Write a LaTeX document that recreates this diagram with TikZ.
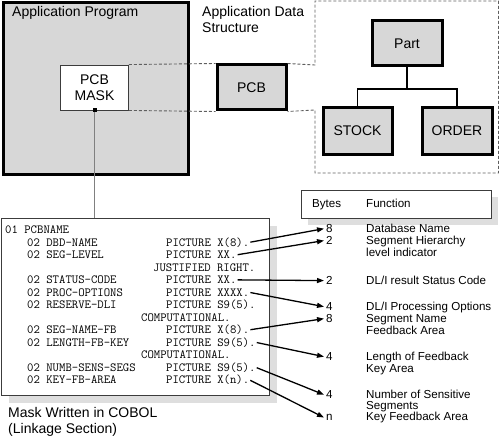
\documentclass[tikz,border=0pt]{standalone}
\usepackage{fontspec}
\setmainfont{Liberation Sans}
\newfontfamily\monof{Latin Modern Mono}
\usetikzlibrary{arrows.meta}
\definecolor{boxgray}{RGB}{215,215,215}
\definecolor{shadowgray}{RGB}{222,222,222}
\definecolor{dashgray}{RGB}{95,95,95}
\definecolor{framegray}{RGB}{60,60,60}
\begin{document}
\begin{tikzpicture}[x=1pt,y=-1pt,
  big/.style={font=\fontsize{14}{16}\selectfont},
  lbl/.style={font=\fontsize{11.6}{12}\selectfont, anchor=mid west, inner sep=0pt},
  code/.style={font=\monof\fontsize{12.4}{12}\selectfont, anchor=mid west, inner sep=0pt},
  thickbox/.style={draw=black, line width=3pt, fill=boxgray, big, inner sep=0pt},
  thinbox/.style={draw=framegray, line width=0.9pt, fill=white, inner sep=0pt},
  dashline/.style={draw=dashgray, line width=0.9pt, dash pattern=on 3pt off 2pt},
  tree/.style={draw=black, line width=1.5pt},
  arr/.style={-{Triangle[length=7pt,width=5pt]}, line width=1.3pt, shorten <=1pt}
]
\useasboundingbox (0,0) rectangle (500,441);

% Application program container
\node[thickbox, minimum width=185.5, minimum height=171, anchor=north west] (app) at (1.5,1.5) {};
\node[big, anchor=mid west, inner sep=0pt] (apptitle) at (12,14) {Application Program};

% PCB mask
\node[thinbox, big, align=center, minimum width=68, minimum height=45] (mask) at (94.5,87.5) {PCB\\MASK};

% PCB
\node[thickbox, minimum width=69, minimum height=45] (pcb) at (251.5,87.5) {PCB};

% Data structure dashed outline
\coordinate (d1) at (315,65);
\coordinate (d2) at (315,1);
\coordinate (d3) at (498.5,1);
\coordinate (d4) at (498.5,173);
\coordinate (d5) at (315,173);
\coordinate (d6) at (315,110);
\draw[dashline] (mask.north east) -- (pcb.north west);
\draw[dashline] (mask.south east) -- (pcb.south west);
\draw[dashline] (pcb.north east) -- (d1) -- (d2) -- (d3) -- (d4) -- (d5) -- (d6) -- (pcb.south east);
\node[big, anchor=mid west, inner sep=0pt] (adstitle1) at (202,14) {Application Data};
\node[big, anchor=mid west, inner sep=0pt] (adstitle2) at (202,30) {Structure};

% Tree
\node[thickbox, minimum width=70, minimum height=45] (part) at (407,43.5) {Part};
\node[thickbox, minimum width=69, minimum height=46] (stock) at (357.5,131) {STOCK};
\node[thickbox, minimum width=70, minimum height=46] (order) at (457,131) {ORDER};
\coordinate (tj) at (407,89);
\draw[tree] (part.south) -- (tj);
\draw[tree] (stock.north) |- (tj) -| (order.north);

% Bytes / Function header
\fill[shadowgray] (308,197) rectangle (498,225);
\node[thinbox, minimum width=190, minimum height=28] (hdr) at (396,204) {};
\node[lbl] (hb) at (312,205) {Bytes};
\node[lbl] (hf) at (366,205) {Function};

% COBOL box
\fill[shadowgray] (9,226) rectangle (277,403);
\node[thinbox, minimum width=268, minimum height=177] (cobol) at (135,306.5) {};
\draw[draw=gray, line width=1pt] (mask.south) -- (cobol.north -| mask.south);
\fill[black] ([xshift=-2pt,yshift=-2pt]mask.south) rectangle ([xshift=2pt,yshift=2pt]mask.south);

\node[code] (c1) at (5,231) {01 PCBNAME};
\node[code] (c2) at (27,243.5) {02 DBD-NAME};
\node[code] (p2) at (166,243.5) {PICTURE X(8).};
\node[code] (c3) at (27,256) {02 SEG-LEVEL};
\node[code] (p3) at (166,256) {PICTURE XX.};
\node[code] (p4) at (153,268.5) {JUSTIFIED RIGHT.};
\node[code] (c5) at (27,281) {02 STATUS-CODE};
\node[code] (p5) at (166,281) {PICTURE XX.};
\node[code] (c6) at (27,293.5) {02 PROC-OPTIONS};
\node[code] (p6) at (166,293.5) {PICTURE XXXX.};
\node[code] (c7) at (27,306) {02 RESERVE-DLI};
\node[code] (p7) at (166,306) {PICTURE S9(5).};
\node[code] (p8) at (141,318.5) {COMPUTATIONAL.};
\node[code] (c9) at (27,331) {02 SEG-NAME-FB};
\node[code] (p9) at (166,331) {PICTURE X(8).};
\node[code] (c10) at (27,343.5) {02 LENGTH-FB-KEY};
\node[code] (p10) at (166,343.5) {PICTURE S9(5).};
\node[code] (p11) at (141,356) {COMPUTATIONAL.};
\node[code] (c12) at (27,368.5) {02 NUMB-SENS-SEGS};
\node[code] (p12) at (166,368.5) {PICTURE S9(5).};
\node[code] (c13) at (27,381) {02 KEY-FB-AREA};
\node[code] (p13) at (166,381) {PICTURE X(n).};

\node[big, anchor=mid west, inner sep=0pt] (caption1) at (8,415) {Mask Written in COBOL};
\node[big, anchor=mid west, inner sep=0pt] (caption2) at (8,431) {(Linkage Section)};

% Bytes column
\node[lbl] (b1) at (326,230) {8};
\node[lbl] (b2) at (326,242) {2};
\node[lbl] (b3) at (326,282) {2};
\node[lbl] (b4) at (326,308) {4};
\node[lbl] (b5) at (326,320) {8};
\node[lbl] (b6) at (326,358) {4};
\node[lbl] (b7) at (326,396) {4};
\node[lbl] (b8) at (326,418) {n};

% Function column
\node[lbl] (f1) at (366,230) {Database Name};
\node[lbl] (f2a) at (366,242) {Segment Hierarchy};
\node[lbl] (f2b) at (366,254) {level indicator};
\node[lbl] (f3) at (366,282) {DL/I result Status Code};
\node[lbl] (f4) at (366,308) {DL/I Processing Options};
\node[lbl] (f5a) at (366,320) {Segment Name};
\node[lbl] (f5b) at (366,332) {Feedback Area};
\node[lbl] (f6a) at (366,358) {Length of Feedback};
\node[lbl] (f6b) at (366,370) {Key Area};
\node[lbl] (f7a) at (366,396) {Number of Sensitive};
\node[lbl] (f7b) at (366,407) {Segments};
\node[lbl] (f8) at (366,418) {Key Feedback Area};

% Arrows
\draw[arr] (p2.east) -- ([xshift=-2pt]b1.west);
\draw[arr] (p3.east) -- ([xshift=-2pt]b2.west);
\draw[arr] (p5.east) -- ([xshift=-2pt]b3.west);
\draw[arr] (p6.east) -- ([xshift=-2pt]b4.west);
\draw[arr] (p9.east) -- ([xshift=-2pt]b5.west);
\draw[arr] (p10.east) -- ([xshift=-2pt]b6.west);
\draw[arr] (p12.east) -- ([xshift=-2pt]b7.west);
\draw[arr] (p13.east) -- ([xshift=-2pt]b8.west);
\end{tikzpicture}
\end{document}
